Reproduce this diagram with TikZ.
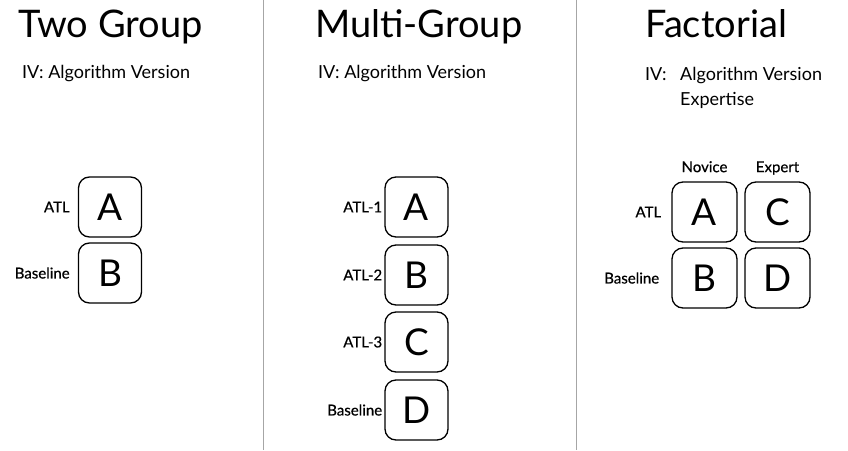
\documentclass[tikz,border=0pt]{standalone}
\usepackage{fontspec}
\setmainfont{Lato}
\newfontfamily\labelfont[FakeBold=0.6]{Lato}
\usetikzlibrary{positioning}

\tikzset{
  cell/.style={draw, rounded corners=11pt, line width=1.3pt, minimum width=63pt,
    minimum height=60pt, inner sep=0pt, font=\fontsize{37}{37}\selectfont},
  rowlabel/.style={inner sep=0pt, font=\labelfont\fontsize{15}{15}\selectfont},
  heading/.style={anchor=base west, inner sep=0pt, font=\fontsize{38}{38}\selectfont},
  ivtext/.style={anchor=base west, inner sep=0pt, font=\fontsize{18}{18}\selectfont},
  divider/.style={gray!70, line width=1pt},
}

\begin{document}
\begin{tikzpicture}[x=1pt,y=-1pt]
    \useasboundingbox (0,0) rectangle (848,450);

    % column dividers
    \draw[divider] (263,0) -- (263,450);
    \draw[divider] (576,0) -- (576,450);

    % Left column: two groups
    \node[heading] (twohead) at (18,37) {Two Group};
    \node[ivtext] (twoiv) at (22,78) {IV: Algorithm Version};

    \node[cell] (twoA) at (110,207) {A};
    \node[cell] (twoB) at (110,273) {B};
    \node[rowlabel, left=8pt of twoA] (twoatl) {ATL};
    \node[rowlabel, left=8pt of twoB] (twobase) {Baseline};

    % Middle column: several groups
    \node[heading] (multihead) at (315,37) {Multi-Group};
    \node[ivtext] (multiiv) at (318,78) {IV: Algorithm Version};

    \foreach \y/\name/\label in {207/A/ATL-1,275/B/ATL-2,342/C/ATL-3,410/D/Baseline} {
      \node[cell] (multi\name) at (416.5,\y) {\name};
      \node[rowlabel, left=2pt of multi\name] (multilab\name) {\label};
    }

    % Right column: 2x2 design
    \node[heading] (facthead) at (645,37) {Factorial};
    \node[ivtext] (factiv) at (645,80) {IV:};
    \node[ivtext] (factalg) at (680,80) {Algorithm Version};
    \node[ivtext] (factexp) at (680,105) {Expertise};

    \node[cell, minimum width=65pt] (factA) at (704.5,212) {A};
    \node[cell, minimum width=65pt] (factC) at (777.5,212) {C};
    \node[cell, minimum width=65pt] (factB) at (704.5,278) {B};
    \node[cell, minimum width=65pt] (factD) at (777.5,278) {D};

    \node[rowlabel, text depth=0pt, above=9pt of factA] (novice) {Novice};
    \node[rowlabel, text depth=0pt, above=9pt of factC] (expert) {Expert};
    \node[rowlabel, left=10pt of factA] (factatl) {ATL};
    \node[rowlabel, left=12pt of factB] (factbase) {Baseline};
\end{tikzpicture}
\end{document}
